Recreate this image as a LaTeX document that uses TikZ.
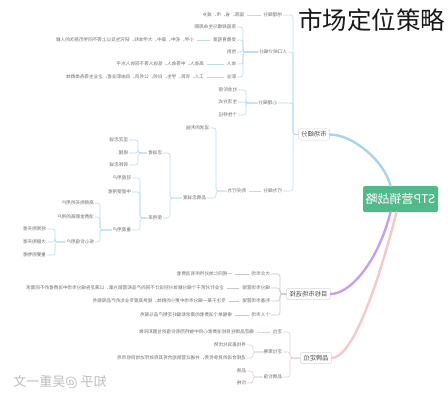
\documentclass[tikz,border=0pt]{standalone}
\usepackage{fontspec}
\setmainfont{Noto Sans CJK SC}
\usepackage{graphicx}
\usetikzlibrary{calc}
\definecolor{rootgreen}{HTML}{52BA8A}
\definecolor{blueln}{HTML}{A8D4EE}
\definecolor{purpleln}{HTML}{C6A0E8}
\definecolor{pinkln}{HTML}{F7C8C8}
\definecolor{bluebr}{HTML}{B8DCEA}
\definecolor{greybr}{HTML}{C8C8C8}
\definecolor{pinkbr}{HTML}{E2D0D0}
\definecolor{txtgrey}{HTML}{6E6E6E}
\definecolor{boxline}{HTML}{D6D6D6}
\newcommand{\mir}[1]{\reflectbox{#1}}
\begin{document}
\begin{tikzpicture}[x=1pt,y=-1pt,
  lbl/.style={font=\fontsize{4.6}{5.5}\selectfont, text=txtgrey, inner sep=0.8pt, anchor=east},
  brbox/.style={draw=boxline, line width=0.5pt, fill=white, rounded corners=1.5pt,
    font=\fontsize{6.3}{7.5}\selectfont, text=black!70, inner xsep=3pt, inner ysep=2.6pt},
  rootbox/.style={fill=rootgreen, rounded corners=1.5pt, text=white,
    font=\fontsize{12}{14}\selectfont, minimum width=75pt, minimum height=26pt, inner sep=0pt},
  bl/.style={draw=bluebr, line width=0.55pt, rounded corners=2.5pt},
  gl/.style={draw=greybr, line width=0.55pt, rounded corners=2.5pt},
  pl/.style={draw=pinkbr, line width=0.55pt, rounded corners=2.5pt},
  gapped/.style={shorten <=2pt, shorten >=2pt},
  mainln/.style={line width=2.4pt, line cap=round}
]
\useasboundingbox[fill=white] (0,0) rectangle (448,400);

% title
\node[font=\fontsize{24.5}{26}\selectfont, anchor=west, inner sep=0pt, text=black!90] (title) at (298,20) {市场定位策略};

% root and branch boxes
\node[rootbox] (root) at (400.5,199) {\mir{STP营销战略}};
\node[brbox] (s) at (314,134.5) {\mir{市场细分}};
\node[brbox] (t) at (308.5,294) {\mir{目标市场选择}};
\node[brbox] (p) at (316,358) {\mir{品牌定位}};

% main branches
\draw[mainln, blueln] ($(root.north)+(-10,0)$) .. controls (384,160) and (352,134.5) .. (s.east);
\draw[mainln, purpleln] ($(root.south)+(-10,0)$) .. controls (378,262) and (350,294) .. (t.east);
\draw[mainln, pinkln] ($(root.south)+(-4,0)$) .. controls (374,300) and (350,358) .. (p.east);

% ---------- market segmentation subtree ----------
\node[lbl] (A) at (283,15) {\mir{地理细分}};
\node[lbl] (A1) at (245,15) {\mir{国家、省、市、城乡}};
\node[lbl] (B) at (288,52) {\mir{人口统计细分}};
\node[lbl] (Ba) at (237,27) {\mir{家庭规模与生命周期}};
\node[lbl] (Bb) at (237,40) {\mir{受教育程度}};
\node[lbl] (Bb1) at (195,40) {\mir{小学、初中、高中、大学本科、研究生及以上等不同学历层次的人群}};
\node[lbl] (Bc) at (237,52) {\mir{性别}};
\node[lbl] (Bd) at (237,64) {\mir{收入}};
\node[lbl] (Bd1) at (205,64) {\mir{高收入、中等收入、低收入等不同收入水平}};
\node[lbl] (Be) at (237,77) {\mir{职业}};
\node[lbl] (Be1) at (205,77) {\mir{工人、农民、学生、白领、公务员、自由职业者、企业主等各类群体}};
\node[lbl] (C) at (278,103) {\mir{心理细分}};
\node[lbl] (Ca) at (238,90) {\mir{社会阶层}};
\node[lbl] (Cb) at (238,102) {\mir{生活方式}};
\node[lbl] (Cc) at (238,115) {\mir{个性特征}};
\node[lbl] (D) at (283,191) {\mir{行为细分}};
\node[lbl] (D1) at (247,191) {\mir{购买行为}};
\node[lbl] (L) at (210,128) {\mir{追求的利益}};
\node[lbl] (R) at (207,198) {\mir{品牌忠诚度}};
\node[lbl] (Q) at (163,153) {\mir{忠诚者}};
\node[lbl] (Q1) at (129,140) {\mir{坚定忠诚}};
\node[lbl] (Q2) at (129,153) {\mir{摇摆}};
\node[lbl] (Q3) at (129,165) {\mir{转移忠诚}};
\node[lbl] (S) at (163,218) {\mir{使用率}};
\node[lbl] (S1) at (132,178) {\mir{轻度用户}};
\node[lbl] (S2) at (132,192) {\mir{中度使用者}};
\node[lbl] (T) at (132,230) {\mir{重度用户}};
\node[lbl] (T1) at (95,203) {\mir{高频购买的用户}};
\node[lbl] (T2) at (95,217) {\mir{消费金额高的用户}};
\node[lbl] (U) at (95,242) {\mir{核心价值用户}};
\node[lbl] (U1) at (47,229) {\mir{经常购买者}};
\node[lbl] (U2) at (47,242) {\mir{大额购买者}};
\node[lbl] (U3) at (47,255) {\mir{重要购物者}};

\foreach \c in {A,B,C,D} \draw[bl] (s.west) -- (293,134.5) |- (\c.east);
\draw[bl, gapped] (A.west) -- (A1.east);
\foreach \c in {Ba,Bb,Bc,Bd,Be} \draw[bl] (B.west) -- (243,52) |- (\c.east);
\draw[bl, gapped] (Bb.west) -- (Bb1.east);
\draw[bl, gapped] (Bd.west) -- (Bd1.east);
\draw[bl, gapped] (Be.west) -- (Be1.east);
\foreach \c in {Ca,Cb,Cc} \draw[bl] (C.west) -- (246,103) |- (\c.east);
\draw[bl, gapped] (D.west) -- (D1.east);
\foreach \c in {L,R} \draw[bl] (D1.west) -- (216,191) |- (\c.east);
\foreach \c in {Q,S} \draw[bl] (R.west) -- (170,198) |- (\c.east);
\foreach \c in {Q1,Q2,Q3} \draw[bl] (Q.west) -- (138,153) |- (\c.east);
\foreach \c in {S1,S2,T} \draw[bl] (S.west) -- (140,218) |- (\c.east);
\foreach \c in {T1,T2,U} \draw[bl] (T.west) -- (100,230) |- (\c.east);
\foreach \c in {U1,U2,U3} \draw[bl] (U.west) -- (55,242) |- (\c.east);

% ---------- target market subtree ----------
\node[lbl] (Ta) at (271,274) {\mir{大众市场}};
\node[lbl] (Ta1) at (233,274) {\mir{一视同仁地对待所有消费者}};
\node[lbl] (Tb) at (271,288) {\mir{细分市场营销}};
\node[lbl] (Tb1) at (225,288) {\mir{企业针对若干个细分群体分别设计不同的产品和营销方案，以满足各细分市场中消费者的不同需求}};
\node[lbl] (Tc) at (271,301) {\mir{利基市场营销}};
\node[lbl] (Tc1) at (227,301) {\mir{专注于某一细分市场中更小的群体，提供高度专业化的产品和服务}};
\node[lbl] (Td) at (271,315) {\mir{个人市场}};
\node[lbl] (Td1) at (233,315) {\mir{根据单个消费者的需求和偏好定制产品与服务}};
\foreach \c in {Ta,Tb,Tc,Td} \draw[gl] (t.west) -- (280,294) |- (\c.east);
\draw[gl, gapped] (Ta.west) -- (Ta1.east);
\draw[gl, gapped] (Tb.west) -- (Tb1.east);
\draw[gl, gapped] (Tc.west) -- (Tc1.east);
\draw[gl, gapped] (Td.west) -- (Td1.east);

% ---------- brand positioning subtree ----------
\node[lbl] (Pa) at (283,332) {\mir{定位}};
\node[lbl] (Pa1) at (255,332) {\mir{确定品牌在目标消费者心目中独特而有价值的位置和形象}};
\node[lbl] (Pb) at (283,352) {\mir{定位策略}};
\node[lbl] (Pb1) at (247,345) {\mir{寻找差异化优势}};
\node[lbl] (Pb2) at (247,358) {\mir{选择合适的竞争优势，并通过营销组合将其有效传达给目标市场}};
\node[lbl] (Pc) at (283,377) {\mir{品牌价值}};
\node[lbl] (Pc1) at (247,371) {\mir{品质}};
\node[lbl] (Pc2) at (247,383) {\mir{价格}};
\foreach \c in {Pa,Pb,Pc} \draw[pl] (p.west) -- (290,358) |- (\c.east);
\draw[pl, gapped] (Pa.west) -- (Pa1.east);
\foreach \c in {Pb1,Pb2} \draw[pl] (Pb.west) -- (253,352) |- (\c.east);
\foreach \c in {Pc1,Pc2} \draw[pl] (Pc.west) -- (253,377) |- (\c.east);

% watermark
\node[font=\fontsize{13}{14}\selectfont, text=black!26, inner sep=0pt] (wm) at (60,382) {\mir{知乎 @吴重一文}};
\end{tikzpicture}
\end{document}
